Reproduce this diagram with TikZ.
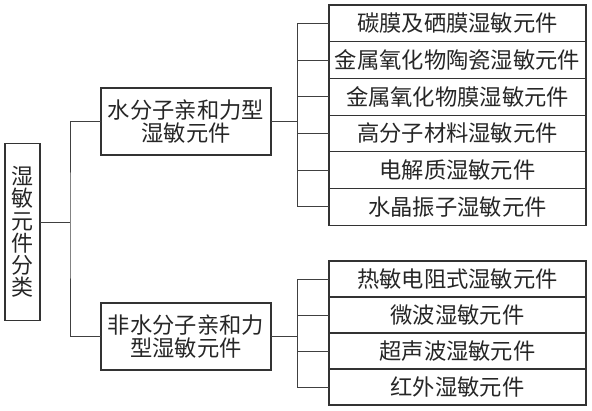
\documentclass[tikz,border=0pt]{standalone}
\usepackage{fontspec}
\newfontfamily\cjk{Noto Sans CJK SC}
\usepackage{xcolor}
\usepackage{tikz}
\usetikzlibrary{positioning}

\begin{document}
\begin{tikzpicture}[
    x=1pt, y=1pt,
    box/.style={draw=black!80, line width=1.1pt, inner sep=0pt, outer sep=0pt,
                font=\cjk\fontsize{22.3}{23.5}\selectfont, text=black!85,
                align=center},
    leaf/.style={box, minimum width=257pt, minimum height=#1},
    leaf/.default=36.7pt,
    mid/.style={box, minimum width=170pt, minimum height=67pt},
    wire/.style={draw=black!75, line width=0.8pt},
  ]
  \useasboundingbox (0,0) rectangle (592,-411);

  % root and second level
  \node[box, minimum width=35pt, minimum height=177pt,
        font=\cjk\fontsize{22}{22.3}\selectfont] (root) at (22.5,-232)
    {湿\\敏\\元\\件\\分\\类};
  \node[mid] (water) at (186,-121.5) {水分子亲和力型\\湿敏元件};
  \node[mid] (nonwater) at (186,-336.5) {非水分子亲和力\\型湿敏元件};

  % water-affinity elements
  \node[leaf] (t1) at (457.5,-23.4) {碳膜及硒膜湿敏元件};
  \node[leaf, below=0pt of t1] (t2) {金属氧化物陶瓷湿敏元件};
  \node[leaf, below=0pt of t2] (t3) {金属氧化物膜湿敏元件};
  \node[leaf, below=0pt of t3] (t4) {高分子材料湿敏元件};
  \node[leaf, below=0pt of t4] (t5) {电解质湿敏元件};
  \node[leaf, below=0pt of t5] (t6) {水晶振子湿敏元件};

  % non-water-affinity elements
  \node[leaf=36pt] (b1) at (457.5,-279) {热敏电阻式湿敏元件};
  \node[leaf=36pt, below=0pt of b1] (b2) {微波湿敏元件};
  \node[leaf=36pt, below=0pt of b2] (b3) {超声波湿敏元件};
  \node[leaf=36pt, below=0pt of b3] (b4) {红外湿敏元件};

  % connectors
  \coordinate (bus0) at (70,-222);
  \coordinate (bus1) at (297,-121.5);
  \coordinate (bus2) at (297,-336.5);
  \draw[wire] (bus0 -| root.east) -- (bus0);
  \draw[wire] (water.west) -| (bus0) |- (nonwater.west);
  \draw[wire] (water.east) -- (bus1);
  \draw[wire] (nonwater.east) -- (bus2);
  \foreach \i in {1,...,6}
    \draw[wire] (bus1) |- (t\i.west);
  \foreach \i in {1,...,4}
    \draw[wire] (bus2) |- (b\i.west);
\end{tikzpicture}
\end{document}
